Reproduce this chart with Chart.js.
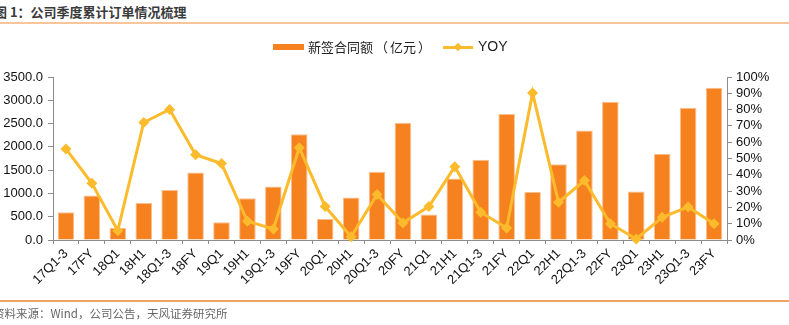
<!DOCTYPE html>
<html>
<head>
<meta charset="utf-8">
<script src="https://cdn.jsdelivr.net/npm/chart.js@4"></script>
<style>
  html, body { margin:0; padding:0; background:#fff; overflow:hidden; }
  #wrap { position:relative; width:789px; height:325px; }
  #c { position:absolute; left:0; top:0; }
  .t { position:absolute; white-space:nowrap; }
  #title { left:-6px; top:2px; font:bold 13px "Noto Sans CJK SC", sans-serif; color:#3a3a3a; }
  #topline { position:absolute; left:0; top:22px; width:789px; height:2px; background:#f8c49a; }
  #botline { position:absolute; left:0; top:300px; width:789px; height:1.5px; background:#f0a466; }
  #source { left:-7px; top:305px; font:11.5px "Noto Sans CJK SC", sans-serif; color:#666; }
  #lg1box { position:absolute; left:273px; top:44px; width:31px; height:6px; background:#f5821f; }
  #lg1 { left:308px; top:37px; font:13px "Noto Sans CJK SC", sans-serif; color:#222; }
  #lg1 .p { display:inline-block; margin:0 2px; }
  #lg2line { position:absolute; left:443px; top:46px; width:30px; height:2.5px; background:#fbbb2c; }
  #lg2dot { position:absolute; left:455px; top:44px; width:6px; height:6px; background:#fbbb2c; transform:rotate(45deg); }
  #lg2 { left:478px; top:38px; font:14px "Liberation Sans", Arial, sans-serif; color:#222; }
</style>
</head>
<body>
<div id="wrap">
  <div class="t" id="title">图 1：公司季度累计订单情况梳理</div>
  <div id="topline"></div>
  <canvas id="c" width="789" height="325"></canvas>
  <div id="lg1box"></div>
  <div class="t" id="lg1">新签合同额<span class="p">（</span>亿元<span class="p">）</span></div>
  <div id="lg2line"></div>
  <div id="lg2dot"></div>
  <div class="t" id="lg2">YOY</div>
  <div id="botline"></div>
  <div class="t" id="source">资料来源：Wind，公司公告，天风证券研究所</div>
</div>
<script>
const categories = ['17Q1-3','17FY','18Q1','18H1','18Q1-3','18FY','19Q1','19H1','19Q1-3','19FY','20Q1','20H1','20Q1-3','20FY','21Q1','21H1','21Q1-3','21FY','22Q1','22H1','22Q1-3','22FY','23Q1','23H1','23Q1-3','23FY'];
const orders = [595, 954, 258, 796, 1076, 1449, 380, 897, 1148, 2273, 452, 911, 1463, 2517, 545, 1320, 1721, 2704, 1033, 1628, 2352, 2969, 1040, 1850, 2840, 3270];
const yoy = [55.9, 34.8, 5.7, 72.1, 80.1, 52.3, 46.9, 11.5, 6.8, 56.6, 20.5, 2.0, 27.9, 10.5, 20.5, 45.0, 17.0, 7.4, 90.2, 23.2, 36.5, 10.0, 0.6, 13.9, 20.3, 10.0];
const leftTicks = [0, 500, 1000, 1500, 2000, 2500, 3000, 3500];
const rightTicks = [0, 10, 20, 30, 40, 50, 60, 70, 80, 90, 100];

const axisColor = '#8c8c8c';
const tickFont = { family: '"Liberation Sans", Arial, sans-serif', size: 13 };

new Chart(document.getElementById('c'), {
  data: {
    labels: categories,
    datasets: [
      {
        type: 'line', label: 'YOY', data: yoy, yAxisID: 'y1', order: 0,
        borderColor: '#fbbb2c', backgroundColor: '#fbbb2c', borderWidth: 3,
        pointStyle: 'rectRot', pointRadius: 5.5, pointBackgroundColor: '#fbbb2c',
        pointBorderColor: '#fbbb2c', pointBorderWidth: 0, tension: 0, clip: false
      },
      {
        type: 'bar', label: '新签合同额（亿元）', data: orders, yAxisID: 'y', order: 1,
        backgroundColor: '#f5821f', borderColor: '#f9bf90', borderWidth: 1,
        barPercentage: 0.64, categoryPercentage: 1.0
      }
    ]
  },
  options: {
    responsive: false, animation: false, devicePixelRatio: 1,
    layout: { padding: { left: 0, right: 0, top: 77, bottom: 0 } },
    plugins: { legend: { display: false }, tooltip: { enabled: false } },
    scales: {
      x: {
        offset: true,
        grid: { offset: true, drawOnChartArea: false, drawTicks: true, tickLength: 4, color: axisColor },
        border: { display: true, color: axisColor, width: 1 },
        ticks: { color: '#111', font: tickFont, minRotation: 45, maxRotation: 45, padding: 2, autoSkip: false },
        afterFit: s => { s.height = 85; }
      },
      y: {
        position: 'left', min: 0, max: 3500,
        afterBuildTicks: s => { s.ticks = leftTicks.map(v => ({ value: v })); },
        grid: { drawOnChartArea: false, drawTicks: true, tickLength: 5, color: axisColor },
        border: { display: true, color: axisColor, width: 1 },
        ticks: { color: '#111', font: tickFont, padding: 5, autoSkip: false, callback: v => Number(v).toFixed(1) },
        afterFit: s => { s.width = 53; }
      },
      y1: {
        position: 'right', min: 0, max: 100,
        afterBuildTicks: s => { s.ticks = rightTicks.map(v => ({ value: v })); },
        grid: { drawOnChartArea: false, drawTicks: true, tickLength: 5, color: axisColor },
        border: { display: true, color: axisColor, width: 1 },
        ticks: { color: '#111', font: tickFont, padding: 4, autoSkip: false, callback: v => v + '%' },
        afterFit: s => { s.width = 62; }
      }
    }
  }
});
</script>
</body>
</html>
